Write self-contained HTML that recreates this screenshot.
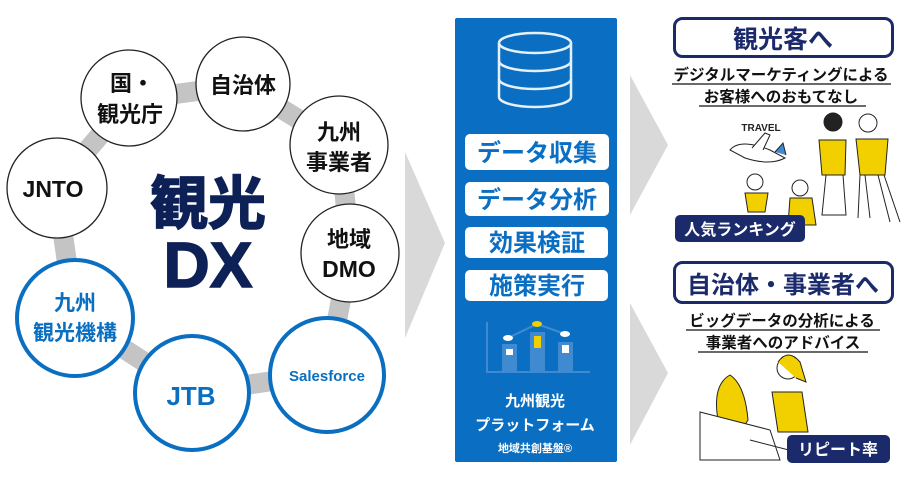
<!DOCTYPE html>
<html><head><meta charset="utf-8"><style>
body{margin:0;width:905px;height:477px;background:#fff;overflow:hidden;font-family:"Liberation Sans","Noto Sans CJK JP",sans-serif;}
svg text{font-family:"Liberation Sans","Noto Sans CJK JP",sans-serif;font-weight:bold;}
</style></head><body>
<svg width="905" height="477" viewBox="0 0 905 477" xmlns="http://www.w3.org/2000/svg">
<polygon points="130,100 243,85 340,145 350,252 327,373 192,393 75,317 56,187" fill="none" stroke="#c4c4c4" stroke-width="20" stroke-linejoin="round"/>
<g stroke="#222" stroke-width="1.3" fill="#fff">
<circle cx="129" cy="98" r="48"/>
<circle cx="243" cy="84" r="47"/>
<circle cx="339" cy="145" r="49"/>
<circle cx="57" cy="188" r="50"/>
<circle cx="350" cy="253" r="49"/>
</g>
<g stroke="#0b6fc1" stroke-width="4" fill="#fff">
<circle cx="75" cy="318" r="58"/>
<circle cx="192" cy="393" r="57"/>
<circle cx="327" cy="375" r="57"/>
</g>
<g fill="#111" font-size="22" text-anchor="middle">
<text x="132" y="91">国・</text>
<text x="130" y="122">観光庁</text>
<text x="243" y="93">自治体</text>
<text x="339" y="140">九州</text>
<text x="339" y="170">事業者</text>
<text x="53" y="197" font-size="23">JNTO</text>
<text x="349" y="247">地域</text>
<text x="349" y="277" font-size="23">DMO</text>
</g>
<g fill="#0b6fc1" text-anchor="middle">
<text x="75" y="310" font-size="21">九州</text>
<text x="75" y="340" font-size="21">観光機構</text>
<text x="191" y="405" font-size="26">JTB</text>
<text x="327" y="381" font-size="15">Salesforce</text>
</g>
<g fill="#0d2156" text-anchor="middle" font-size="58" stroke="#0d2156" stroke-width="1.5">
<text x="208" y="224">観光</text>
<text x="208" y="287" font-size="64">DX</text>
</g>
<polygon points="405,152 445,243 405,338" fill="#d9d9d9"/>
<polygon points="630,75 668,145 630,215" fill="#d9d9d9"/>
<polygon points="630,303 668,373 630,445" fill="#d9d9d9"/>
<rect x="455" y="18" width="162" height="444" rx="2" fill="#0a6fc2"/>
<g fill="none" stroke="#fff" stroke-width="2.5" opacity="0.9">
<ellipse cx="535" cy="43" rx="36" ry="10"/>
<path d="M499,43 V97 A36,10 0 0 0 571,97 V43"/>
<path d="M499,61 A36,10 0 0 0 571,61"/>
<path d="M499,79 A36,10 0 0 0 571,79"/>
</g>
<g fill="#fff">
<rect x="465" y="134" width="144" height="36" rx="5"/>
<rect x="465" y="182" width="144" height="34" rx="5"/>
<rect x="465" y="227" width="143" height="31" rx="5"/>
<rect x="465" y="270" width="143" height="31" rx="5"/>
</g>
<g fill="#0a6fc2" font-size="24" text-anchor="middle">
<text x="537" y="161">データ収集</text>
<text x="537" y="208">データ分析</text>
<text x="537" y="251">効果検証</text>
<text x="537" y="294">施策実行</text>
</g>
<g>
<path d="M487,322 V372 H590" stroke="#3f8ad0" stroke-width="2" fill="none"/>
<rect x="502" y="344" width="15" height="28" fill="#3f8ad0"/>
<rect x="530" y="332" width="15" height="40" fill="#3f8ad0"/>
<rect x="558" y="342" width="15" height="30" fill="#3f8ad0"/>
<rect x="506" y="349" width="7" height="6" fill="#fff"/>
<rect x="534" y="336" width="7" height="12" fill="#f2d000"/>
<rect x="562" y="345" width="7" height="8" fill="#fff"/>
<path d="M508,338 L537,324 L565,334" stroke="#3f8ad0" stroke-width="2" fill="none"/>
<ellipse cx="508" cy="338" rx="5" ry="3" fill="#fff"/><ellipse cx="537" cy="324" rx="5" ry="3" fill="#f2d000"/><ellipse cx="565" cy="334" rx="5" ry="3" fill="#fff"/>
</g>
<g fill="#fff" text-anchor="middle">
<text x="535" y="406" font-size="15">九州観光</text>
<text x="535" y="430" font-size="15">プラットフォーム</text>
<text x="535" y="452" font-size="11">地域共創基盤®</text>
</g>
<rect x="674.5" y="18.5" width="218" height="38" rx="8" fill="#fff" stroke="#1b2a6b" stroke-width="3"/>
<text x="783" y="48" font-size="25" fill="#1b2a6b" text-anchor="middle">観光客へ</text>
<g fill="#111" font-size="15.5" text-anchor="middle">
<text x="781" y="80">デジタルマーケティングによる</text>
<text x="781" y="102">お客様へのおもてなし</text>
</g>
<path d="M672,84 H891 M699,106 H866" stroke="#111" stroke-width="1.2"/>
<text x="761" y="131" font-size="10" fill="#222" text-anchor="middle">TRAVEL</text>
<g stroke="#222" stroke-width="1" fill="#fff">
<path d="M730,150 Q740,138 770,150 L785,158 Q770,166 745,158 Z"/>
<path d="M752,148 L765,133 L770,135 L763,150"/>
<path d="M775,152 L783,143 L786,155" fill="#3f8ad0"/>
</g>
<g stroke="#222" stroke-width="1">
<circle cx="833" cy="122" r="9" fill="#222"/>
<path d="M819,140 H846 L845,175 H822 Z" fill="#f2d000"/>
<path d="M826,175 L822,215 H846 L843,175 Z" fill="#fff"/>
<circle cx="868" cy="123" r="9" fill="#fff"/>
<path d="M856,139 H888 L885,175 H860 Z" fill="#f2d000"/>
<path d="M860,175 L858,218 M884,175 L900,222 M865,175 L870,218 M878,175 L890,222" fill="none"/>
<circle cx="755" cy="182" r="8" fill="#fff"/>
<path d="M745,193 H768 L765,212 H748 Z" fill="#f2d000"/>
<circle cx="800" cy="188" r="8" fill="#fff"/>
<path d="M790,198 H812 L816,225 H788 Z" fill="#f2d000"/>
</g>
<rect x="675" y="215" width="130" height="27" rx="5" fill="#1b2a6b"/>
<text x="740" y="235" font-size="16" fill="#fff" text-anchor="middle">人気ランキング</text>
<rect x="674.5" y="262.5" width="218" height="40" rx="8" fill="#fff" stroke="#1b2a6b" stroke-width="3"/>
<text x="783" y="293" font-size="24" fill="#1b2a6b" text-anchor="middle">自治体・事業者へ</text>
<g fill="#111" font-size="15.5" text-anchor="middle">
<text x="782" y="326">ビッグデータの分析による</text>
<text x="783" y="348">事業者へのアドバイス</text>
</g>
<path d="M686,330 H880 M698,352 H868" stroke="#111" stroke-width="1.2"/>
<g stroke="#222" stroke-width="1">
<path d="M730,375 Q712,385 718,420 L735,440 L748,420 Q745,385 730,375 Z" fill="#f2d000"/>
<path d="M700,412 L770,430 L780,460 L700,460 Z" fill="#fff"/>
<circle cx="788" cy="368" r="11" fill="#fff"/>
<path d="M778,362 Q788,348 800,362 L806,382 L796,378" fill="#f2d000"/>
<path d="M772,392 H802 L808,432 H778 Z" fill="#f2d000"/>
<path d="M750,440 L820,458" fill="none"/>
</g>
<rect x="787" y="435" width="103" height="28" rx="5" fill="#1b2a6b"/>
<text x="838" y="455" font-size="16" fill="#fff" text-anchor="middle">リピート率</text>
</svg>
</body></html>
